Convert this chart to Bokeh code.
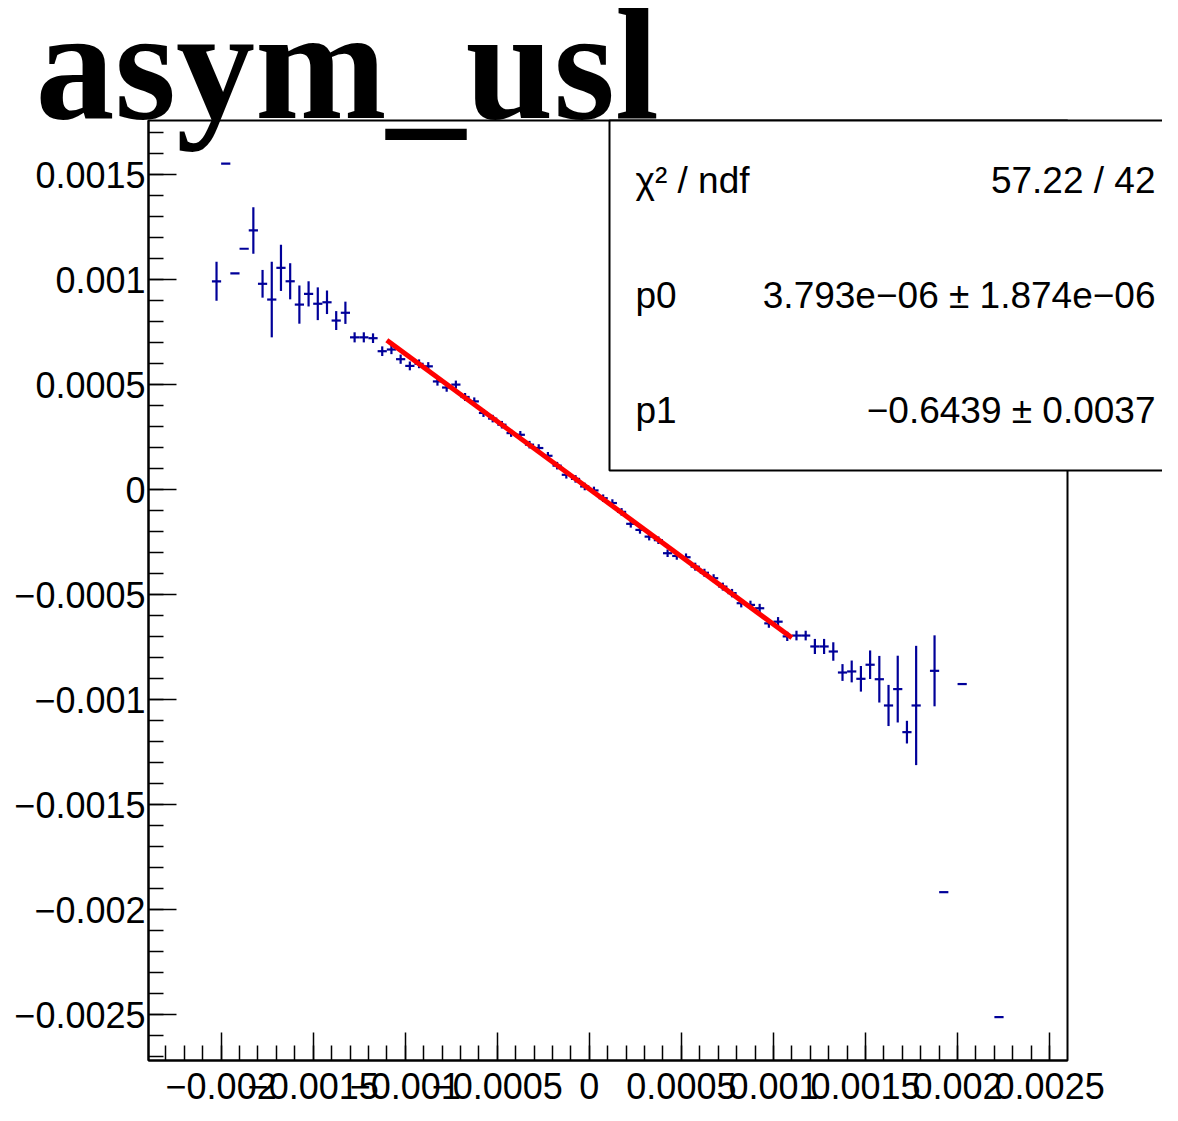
from bokeh.plotting import figure
from bokeh.models import (Range1d, FixedTicker, Label, BoxAnnotation, LinearAxis,
                          CustomJSTickFormatter, ColumnDataSource)
from bokeh.embed import file_html
from bokeh.resources import INLINE

# ---------------- data ----------------
bin_center = [
    -0.002025, -0.001975, -0.001925, -0.001875, -0.001825, -0.001775, -0.001725,
    -0.001675, -0.001625, -0.001575, -0.001525, -0.001475, -0.001425, -0.001375,
    -0.001325, -0.001275, -0.001225, -0.001175, -0.001125, -0.001075, -0.001025,
    -0.000975, -0.000925, -0.000875, -0.000825, -0.000775, -0.000725, -0.000675,
    -0.000625, -0.000575, -0.000525, -0.000475, -0.000425, -0.000375, -0.000325,
    -0.000275, -0.000225, -0.000175, -0.000125, -0.000075, -0.000025,
    0.000025, 0.000075, 0.000125, 0.000175, 0.000225, 0.000275, 0.000325,
    0.000375, 0.000425, 0.000475, 0.000525, 0.000575, 0.000625, 0.000675,
    0.000725, 0.000775, 0.000825, 0.000875, 0.000925, 0.000975, 0.001025,
    0.001075, 0.001125, 0.001175, 0.001225, 0.001275, 0.001325, 0.001375,
    0.001425, 0.001475, 0.001525, 0.001575, 0.001625, 0.001675, 0.001725,
    0.001775, 0.001875, 0.001925, 0.002025, 0.002225,
]
asym_value = [
    0.000993, 0.001553, 0.001031, 0.001148, 0.001235, 0.000981, 0.000906,
    0.001057, 0.000993, 0.000882, 0.000933, 0.000886, 0.000893, 0.000806,
    0.000843, 0.000726, 0.000726, 0.000722, 0.000660, 0.000668, 0.000622,
    0.000590, 0.000600, 0.000588, 0.000516, 0.000487, 0.000501, 0.000442,
    0.000421, 0.000366, 0.000339, 0.000310, 0.000270, 0.000262, 0.000215,
    0.000199, 0.000162, 0.000115, 0.0000715, 0.000052, 0.0000157,
    -0.000003, -0.000040, -0.000063, -0.000105, -0.000162, -0.000191, -0.000223,
    -0.000240, -0.000302, -0.000315, -0.000321, -0.000366, -0.000395, -0.000421,
    -0.000461, -0.000492, -0.000540, -0.000548, -0.000564, -0.000636, -0.000628,
    -0.000698, -0.000694, -0.000694, -0.000746, -0.000746, -0.000770, -0.000870,
    -0.000865, -0.000900, -0.000833, -0.000902, -0.001027, -0.000949, -0.001154,
    -0.001027, -0.000862, -0.001916, -0.000925, -0.002511,
]
asym_error = [
    0.000093, 0.0, 0.0, 0.0, 0.000111, 0.000066, 0.000180,
    0.000110, 0.000086, 0.000091, 0.000060, 0.000078, 0.000056, 0.000045,
    0.000053, 0.000024, 0.000024, 0.000023, 0.000023, 0.000022, 0.000022,
    0.000021, 0.000021, 0.000020, 0.000020, 0.000020, 0.000019, 0.000019,
    0.000019, 0.000019, 0.000018, 0.000018, 0.000018, 0.000018, 0.000018,
    0.000018, 0.000018, 0.000018, 0.000018, 0.000018, 0.000018,
    0.000018, 0.000018, 0.000018, 0.000018, 0.000018, 0.000018, 0.000018,
    0.000018, 0.000018, 0.000018, 0.000018, 0.000019, 0.000019, 0.000019,
    0.000019, 0.000020, 0.000020, 0.000020, 0.000021, 0.000021, 0.000022,
    0.000022, 0.000023, 0.000023, 0.000036, 0.000036, 0.000044, 0.000040,
    0.000052, 0.000061, 0.000068, 0.000111, 0.000098, 0.000159, 0.000054,
    0.000284, 0.000169, 0.0, 0.0, 0.0,
]
bin_half_width = 0.000025

fit_range = [-0.0011, 0.0011]
fit_p0 = 3.793e-06
fit_p1 = -0.6439

x_major_ticks = [-0.002, -0.0015, -0.001, -0.0005, 0, 0.0005, 0.001, 0.0015, 0.002, 0.0025]
y_major_ticks = [-0.0025, -0.002, -0.0015, -0.001, -0.0005, 0, 0.0005, 0.001, 0.0015]
x_minor_ticks = [round(-0.0023 + 0.0001 * i, 5) for i in range(49)]
y_minor_ticks = [round(-0.0027 + 0.0001 * i, 5) for i in range(45)]

title_text = "asym_usl"
stats_rows = [("\u03c7\u00b2 / ndf", "57.22 / 42"),
              ("p0", "3.793e\u221206 \u00b1 1.874e\u221206"),
              ("p1", "\u22120.6439 \u00b1 0.0037")]

# axis range of the histogram frame
X_MIN, X_MAX = -0.0023945, 0.0025971
Y_MIN, Y_MAX = -0.0027176, 0.0017586

# ---------------- geometry (canvas pixels -> data) ----------------
W, H = 1162, 1105
FL, FR, FT, FB = 148, 1067, 120, 1060   # histogram frame edges in canvas pixels


def px_x(px):
    return X_MIN + (px - FL) / (FR - FL) * (X_MAX - X_MIN)


def px_y(py):
    return Y_MAX - (py - FT) / (FB - FT) * (Y_MAX - Y_MIN)


# the Bokeh frame covers the whole canvas; the histogram frame is drawn inside it
p = figure(width=W, height=H, output_backend="svg", toolbar_location=None,
           x_range=Range1d(px_x(0), px_x(W)), y_range=Range1d(px_y(H), px_y(0)),
           x_axis_type=None, y_axis_type=None,
           min_border_left=0, min_border_right=0, min_border_top=0, min_border_bottom=0)
p.grid.visible = False
p.background_fill_color = "white"
p.border_fill_color = "white"
p.outline_line_color = None

fmt = CustomJSTickFormatter(code="return tick < 0 ? '\\u2212' + (-tick).toString() : tick.toString();")
xax = LinearAxis(fixed_location=Y_MIN, bounds=(X_MIN, X_MAX))
yax = LinearAxis(fixed_location=X_MIN, bounds=(Y_MIN, Y_MAX))
for ax, major, minor in ((xax, x_major_ticks, x_minor_ticks),
                         (yax, y_major_ticks, y_minor_ticks)):
    ax.ticker = FixedTicker(ticks=major, minor_ticks=minor)
    ax.formatter = fmt
    ax.major_tick_in = 28
    ax.major_tick_out = 0
    ax.minor_tick_in = 15
    ax.minor_tick_out = 0
    ax.major_tick_line_width = 1.5
    ax.minor_tick_line_width = 1.5
    ax.axis_line_width = 2
    ax.major_label_text_font = "Liberation Sans"
    ax.major_label_text_font_size = "36px"
    ax.major_label_text_color = "black"
xax.major_label_standoff = 12
yax.major_label_standoff = 3
p.add_layout(xax, "below")
p.add_layout(yax, "left")

# histogram frame
p.add_layout(BoxAnnotation(left=X_MIN, right=X_MAX, top=Y_MAX, bottom=Y_MIN,
                           fill_alpha=0.0, line_color="black", line_alpha=1.0, line_width=2))

# error bars
src = ColumnDataSource(dict(
    x=bin_center,
    y=asym_value,
    xl=[c - bin_half_width for c in bin_center],
    xr=[c + bin_half_width for c in bin_center],
    yl=[v - e for v, e in zip(asym_value, asym_error)],
    yh=[v + e for v, e in zip(asym_value, asym_error)],
))
navy = "#000099"
p.segment(x0="xl", y0="y", x1="xr", y1="y", source=src, line_color=navy, line_width=2.2)
p.segment(x0="x", y0="yl", x1="x", y1="yh", source=src, line_color=navy, line_width=2.2)

# fit line
p.line(x=fit_range, y=[fit_p0 + fit_p1 * x for x in fit_range],
       line_color="#ff0000", line_width=5)

# stats box
p.add_layout(BoxAnnotation(left=px_x(609), right=px_x(W + 40), top=Y_MAX, bottom=px_y(470),
                           fill_color="white", fill_alpha=1.0,
                           line_color="black", line_alpha=1.0, line_width=2))
row_y = [180, 295, 410]
for (lab, val), ry in zip(stats_rows, row_y):
    p.add_layout(Label(x=px_x(635), y=px_y(ry), text=lab, text_align="left",
                       text_baseline="middle", text_font="Liberation Sans",
                       text_font_size="37px", text_color="black"))
    p.add_layout(Label(x=px_x(1155), y=px_y(ry), text=val, text_align="right",
                       text_baseline="middle", text_font="Liberation Sans",
                       text_font_size="37px", text_color="black"))

# big title (baseline just above the frame top)
p.add_layout(Label(x=px_x(35), y=px_y(64), text=title_text, text_align="left",
                   text_baseline="alphabetic", text_font="Liberation Serif",
                   text_font_style="bold", text_font_size="158px", text_color="black"))

open("out.html", "w").write(file_html(p, INLINE))
